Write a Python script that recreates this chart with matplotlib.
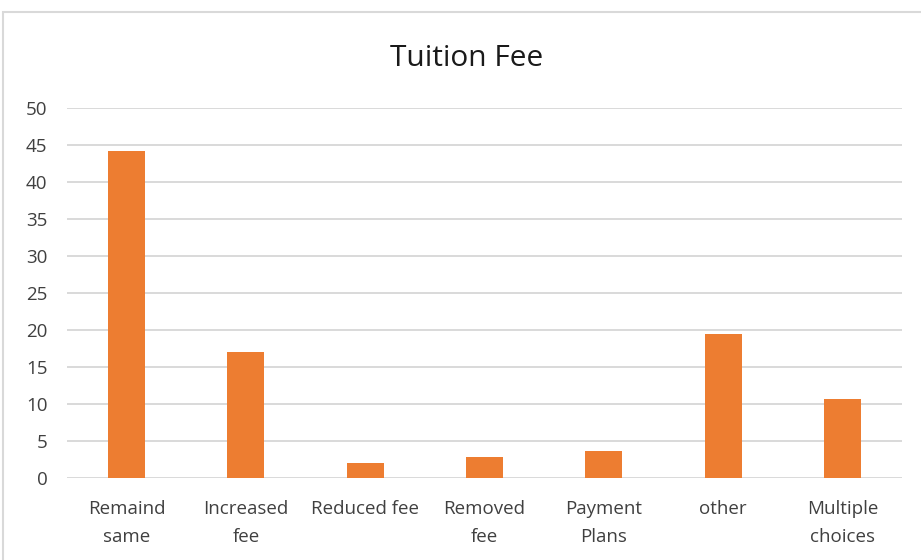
import matplotlib
matplotlib.use("Agg")
import matplotlib.pyplot as plt
from matplotlib.patches import Rectangle

# survey answers about tuition fee changes
categories = ["Remaind\nsame", "Increased\nfee", "Reduced fee", "Removed\nfee",
              "Payment\nPlans", "other", "Multiple\nchoices"]
values = [44.1, 17.0, 2.0, 2.8, 3.6, 19.4, 10.7]
yticks = [0, 5, 10, 15, 20, 25, 30, 35, 40, 45, 50]

plt.rcParams['font.family'] = ['Open Sans', 'DejaVu Sans']

W, H = 921, 560
fig = plt.figure(figsize=(W / 100, H / 100), dpi=100)
fig.patch.set_facecolor("white")

# light frame round the chart area
fig.patches.append(Rectangle((3 / W, -0.05), 1.2, 1 - 12 / H + 0.05,
                             transform=fig.transFigure, fill=False,
                             edgecolor="#d9d9d9", linewidth=1.5))

ax = fig.add_axes([67 / W, 1 - 477.7 / H, 835 / W, (477.7 - 107.7) / H])
x = range(len(categories))
ax.bar(x, values, width=0.31, color="#ED7D31", zorder=3)

ax.set_ylim(0, 50)
ax.set_xlim(-0.5, len(categories) - 0.5)
ax.set_yticks(yticks)
ax.set_xticks(list(x))
ax.set_xticklabels(categories, linespacing=1.75)
ax.yaxis.grid(True, color="#d9d9d9", linewidth=1.4, zorder=0)
for s in ax.spines.values():
    s.set_visible(False)
ax.tick_params(axis="both", length=0, colors="#404040", labelsize=13.5)
ax.tick_params(axis="y", pad=14)
ax.tick_params(axis="x", pad=16)

fig.text(466.5 / W, 1 - 66 / H, "Tuition Fee", ha="center", va="baseline",
         fontsize=21.5, color="#1a1a1a")

fig.savefig("out.png", dpi=100)
